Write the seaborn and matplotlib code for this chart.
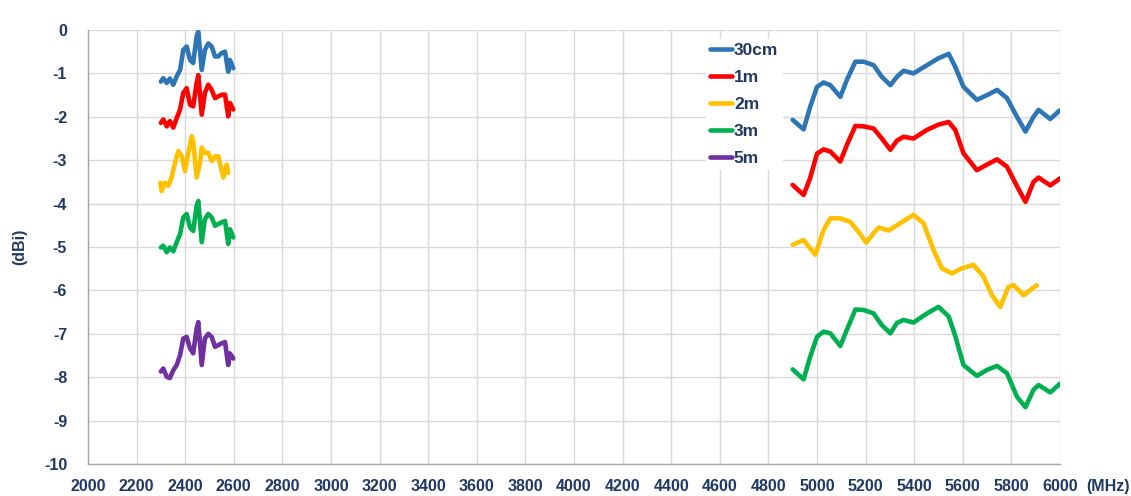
import matplotlib
matplotlib.use("Agg")
import matplotlib.pyplot as plt
import seaborn as sns
import pandas as pd
from matplotlib.lines import Line2D

# ---------------- data ----------------
series_names = ["30cm", "1m", "2m", "3m", "5m"]
series_colors = ["#2E75B6", "#FF0000", "#FFC000", "#00B050", "#7030A0"]

# 2.4 GHz band
freq_24 = [2300, 2310, 2324, 2337, 2351, 2365, 2379, 2392, 2406, 2420, 2433, 2447,
           2454, 2468, 2481, 2495, 2509, 2523, 2536, 2550, 2564, 2577, 2584, 2598]
freq_24_2m = [2298, 2303, 2317, 2330, 2344, 2358, 2372, 2386, 2399, 2413, 2427, 2433,
              2447, 2461, 2468, 2481, 2495, 2509, 2523, 2536, 2557, 2571, 2577]

g24_30cm = [-1.19, -1.11, -1.22, -1.12, -1.26, -1.07, -0.92, -0.46, -0.38, -0.69, -0.76, -0.15,
            -0.04, -0.92, -0.46, -0.31, -0.38, -0.61, -0.61, -0.53, -0.50, -0.96, -0.69, -0.88]
g24_1m = [-2.14, -2.06, -2.22, -2.10, -2.25, -2.03, -1.83, -1.45, -1.34, -1.72, -1.76, -1.22,
          -1.04, -1.95, -1.45, -1.26, -1.38, -1.57, -1.53, -1.49, -1.49, -1.99, -1.68, -1.83]
g24_2m = [-3.52, -3.71, -3.52, -3.59, -3.40, -3.06, -2.79, -2.91, -3.25, -2.83, -2.45, -2.56,
          -3.40, -3.06, -2.71, -2.83, -2.83, -3.02, -2.91, -2.91, -3.40, -3.10, -3.29]
g24_3m = [-5.01, -4.97, -5.12, -5.01, -5.10, -4.89, -4.70, -4.32, -4.24, -4.55, -4.63, -4.05,
          -3.94, -4.89, -4.36, -4.24, -4.32, -4.51, -4.47, -4.43, -4.40, -4.93, -4.59, -4.78]
g24_5m = [-7.87, -7.80, -7.99, -8.02, -7.84, -7.72, -7.49, -7.11, -7.07, -7.34, -7.45, -6.88,
          -6.73, -7.72, -7.11, -7.00, -7.07, -7.30, -7.26, -7.22, -7.19, -7.72, -7.45, -7.57]

# 5 GHz band
freq_5 = [4900, 4945, 4972, 5000, 5027, 5055, 5096, 5123, 5158, 5192, 5233, 5267, 5302, 5329,
          5356, 5397, 5453, 5500, 5542, 5569, 5603, 5658, 5700, 5741, 5782, 5823, 5858, 5891,
          5912, 5960, 6000]
freq_5_2m = [4900, 4945, 4993, 5027, 5055, 5096, 5137, 5171, 5203, 5233, 5254, 5295, 5343,
             5397, 5438, 5480, 5514, 5555, 5597, 5644, 5685, 5720, 5754, 5788, 5809, 5850, 5905]

g5_30cm = [-2.07, -2.29, -1.77, -1.31, -1.21, -1.27, -1.54, -1.15, -0.73, -0.73, -0.81, -1.08,
           -1.27, -1.08, -0.94, -1.00, -0.81, -0.65, -0.55, -0.85, -1.31, -1.61, -1.50, -1.38,
           -1.57, -2.00, -2.34, -2.00, -1.84, -2.05, -1.85]
g5_1m = [-3.57, -3.80, -3.41, -2.85, -2.75, -2.80, -3.03, -2.65, -2.21, -2.22, -2.27, -2.50,
         -2.76, -2.55, -2.46, -2.50, -2.30, -2.18, -2.12, -2.30, -2.84, -3.23, -3.10, -2.98,
         -3.15, -3.60, -3.96, -3.50, -3.40, -3.58, -3.42]
g5_2m = [-4.95, -4.84, -5.18, -4.61, -4.34, -4.34, -4.42, -4.65, -4.90, -4.68, -4.55, -4.62,
         -4.45, -4.26, -4.45, -5.07, -5.49, -5.61, -5.49, -5.41, -5.68, -6.11, -6.38, -5.92,
         -5.88, -6.11, -5.88]
g5_3m = [-7.82, -8.05, -7.53, -7.07, -6.95, -6.99, -7.28, -6.91, -6.44, -6.45, -6.53, -6.80,
         -6.99, -6.75, -6.68, -6.74, -6.53, -6.38, -6.60, -7.05, -7.72, -7.97, -7.83, -7.74,
         -7.91, -8.45, -8.69, -8.29, -8.18, -8.35, -8.15]

x_ticks = list(range(2000, 6001, 200))
x_unit = "(MHz)"
y_ticks = list(range(-10, 1))
y_label = "(dBi)"

# ---------------- build long table ----------------
rows = []
def add(name, band, xs, ys):
    for x, y in zip(xs, ys):
        rows.append({"freq": x, "gain": y, "dist": name, "band": band})

add("30cm", "2.4G", freq_24, g24_30cm)
add("1m", "2.4G", freq_24, g24_1m)
add("2m", "2.4G", freq_24_2m, g24_2m)
add("3m", "2.4G", freq_24, g24_3m)
add("5m", "2.4G", freq_24, g24_5m)
add("30cm", "5G", freq_5, g5_30cm)
add("1m", "5G", freq_5, g5_1m)
add("2m", "5G", freq_5_2m, g5_2m)
add("3m", "5G", freq_5, g5_3m)
df = pd.DataFrame(rows)

# ---------------- style ----------------
sns.set_theme(style="white")
plt.rcParams["font.family"] = ["Liberation Sans", "DejaVu Sans"]
plt.rcParams["axes.unicode_minus"] = False
text_color = "#1F3864"

fig = plt.figure(figsize=(11.31, 4.96), dpi=100)
ax = fig.add_axes([0.0778, 0.0645, 0.8594, 0.875])

palette = dict(zip(series_names, series_colors))
sns.lineplot(data=df, x="freq", y="gain", hue="dist", units="band", estimator=None,
             palette=palette, hue_order=series_names, sort=False, linewidth=3.3,
             ax=ax, legend=False, solid_joinstyle="round", solid_capstyle="round")

ax.set_xlim(2000, 6000)
ax.set_ylim(-10, 0)
ax.set_xticks(x_ticks)
ax.set_xticklabels([str(t) for t in x_ticks])
ax.set_yticks(y_ticks)
ax.set_yticklabels([str(t) for t in y_ticks])
ax.grid(True, color="#D9D9D9", linewidth=1.0)
ax.set_axisbelow(True)

for s in ["top", "right"]:
    ax.spines[s].set_visible(False)
for s in ["left", "bottom"]:
    ax.spines[s].set_color("#A6A6A6")
    ax.spines[s].set_linewidth(1.0)

ax.tick_params(axis="x", which="major", direction="out", length=5, width=1,
               color="#A6A6A6", labelsize=11.5, labelcolor=text_color, pad=6)
ax.tick_params(axis="y", which="major", length=0, labelsize=11.5,
               labelcolor=text_color, pad=15)
for lab in ax.get_xticklabels() + ax.get_yticklabels():
    lab.set_fontweight("bold")

# unit label to the right of the last x tick label
ax.annotate(x_unit, xy=(1.0, 0.0), xycoords="axes fraction", xytext=(19, -11),
            textcoords="offset points", ha="left", va="top", fontsize=11.5,
            fontweight="bold", color=text_color)

ax.set_xlabel("")
ax.set_ylabel(y_label, fontsize=11.5, fontweight="bold", color=text_color, labelpad=12)

handles = [Line2D([0], [0], color=c, linewidth=3.3) for c in series_colors]
leg = ax.legend(handles, series_names, loc="upper left", bbox_to_anchor=(0.627, 1.0),
                frameon=True, facecolor="white", edgecolor="none", framealpha=1.0,
                fontsize=12.5, handlelength=1.25, handletextpad=0.1, labelspacing=0.68,
                borderpad=0.25)
for t in leg.get_texts():
    t.set_color(text_color)
    t.set_fontweight("bold")

fig.savefig("out.png", dpi=100)
